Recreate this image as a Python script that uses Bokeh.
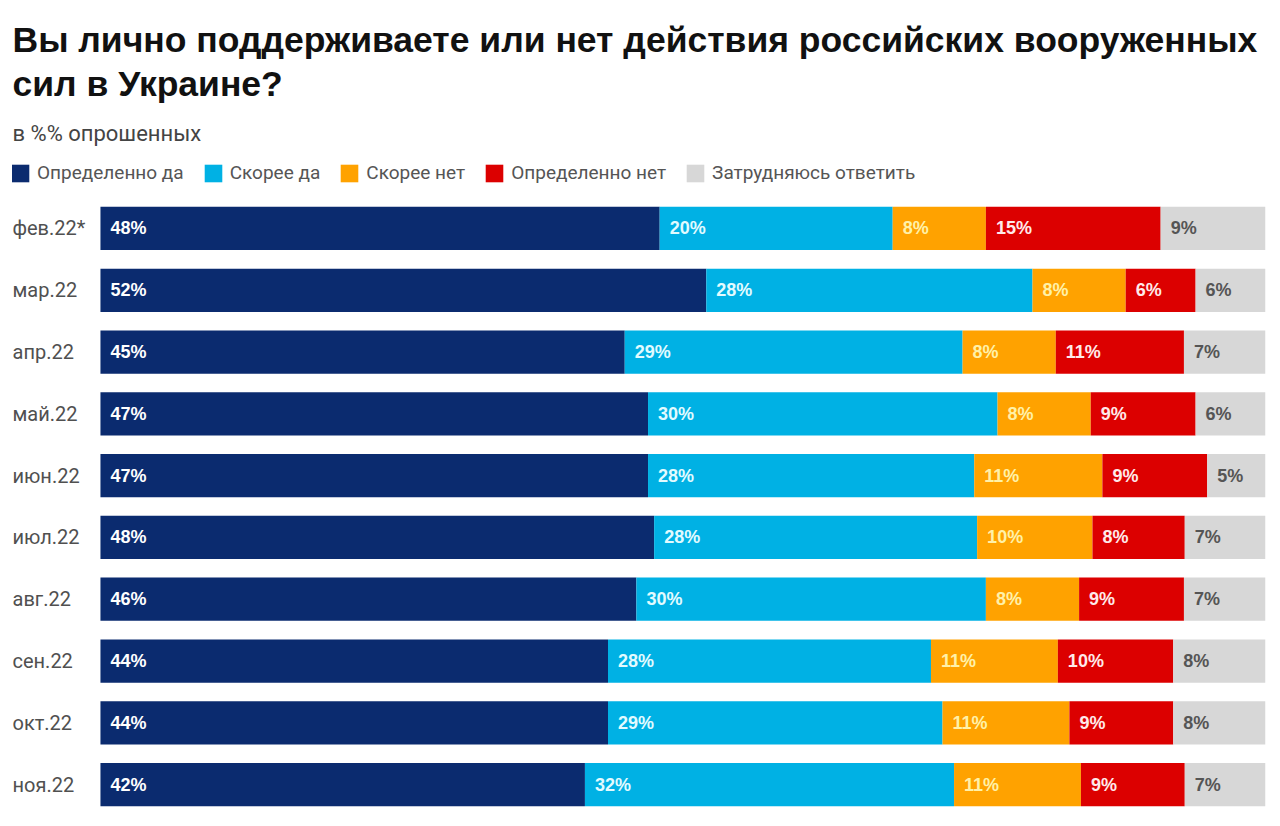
from bokeh.plotting import figure
from bokeh.models import ColumnDataSource, Range1d, Title, Legend, LegendItem
from bokeh.core.properties import value
from bokeh.embed import file_html
from bokeh.resources import INLINE

# ---- data ----
months = ["фев.22*", "мар.22", "апр.22", "май.22", "июн.22", "июл.22",
          "авг.22", "сен.22", "окт.22", "ноя.22"]
definitely_yes = [48, 52, 45, 47, 47, 48, 46, 44, 44, 42]
rather_yes = [20, 28, 29, 30, 28, 28, 30, 28, 29, 32]
rather_no = [8, 8, 8, 8, 11, 10, 8, 11, 11, 11]
definitely_no = [15, 6, 11, 9, 9, 8, 9, 10, 9, 9]
hard_to_say = [9, 6, 7, 6, 5, 7, 7, 8, 8, 7]

series_names = ["Определенно да", "Скорее да", "Скорее нет", "Определенно нет", "Затрудняюсь ответить"]
series_vals = [definitely_yes, rather_yes, rather_no, definitely_no, hard_to_say]
colors = ["#0b2b6f", "#00b1e4", "#ffa200", "#dc0000", "#d7d7d7"]
label_colors = ["#ffffff", "#e2fbff", "#fff1a8", "#ffeaea", "#555555"]

title_text = "Вы лично поддерживаете или нет действия российских вооруженных\nсил в Украине?"
subtitle_text = "в %% опрошенных"

FONT = "Liberation Sans"
LIGHT_FONT = "Roboto"

# normalized shares (rows summing to 101 because of rounding)
keys = ["s0", "s1", "s2", "s3", "s4"]
row_idx = list(range(len(months)))
data = {"month": months, "row": row_idx}
for k in keys:
    data[k] = []
for i in row_idx:
    tot = sum(v[i] for v in series_vals)
    for k, vals in zip(keys, series_vals):
        data[k].append(vals[i] * 100.0 / tot)
source = ColumnDataSource(data)

# label positions (left edge of each segment)
lx, ly, lt, lc = [], [], [], []
for i in row_idx:
    left = 0.0
    for j, k in enumerate(keys):
        lx.append(left)
        ly.append(i)
        lt.append(f"{series_vals[j][i]}%")
        lc.append(label_colors[j])
        left += data[k][i]
lab_src = ColumnDataSource(dict(x=lx, y=ly, t=lt, c=lc))

LEFT_PAD = 7.55   # room for month labels, in % units
TOP_PAD = 1.262   # room for the legend above the first row, in row units
FRAME_H = 818 - 150 - 3

p = figure(width=1272, height=818, output_backend="svg", toolbar_location=None,
           y_range=Range1d(len(months) - 0.5, -TOP_PAD),
           x_range=Range1d(-LEFT_PAD, 100),
           min_border_left=12, min_border_right=7, min_border_top=150, min_border_bottom=3)
p.xaxis.visible = False
p.yaxis.visible = False
p.xgrid.grid_line_color = None
p.ygrid.grid_line_color = None
p.outline_line_color = None

renderers = p.hbar_stack(keys, y="row", height=0.7, color=colors, source=source, line_width=0)

p.text(x="x", y="y", text="t", source=lab_src, x_offset=10, text_color="c",
       text_font=value(FONT), text_font_style="bold", text_font_size="18px",
       text_baseline="middle", text_align="left")

p.text(x=[-LEFT_PAD] * len(months), y=row_idx, text=months,
       text_font=value(LIGHT_FONT), text_font_size="20px", text_color="#505050",
       text_baseline="middle", text_align="left")

legend = Legend(items=[LegendItem(label=n, renderers=[r]) for n, r in zip(series_names, renderers)],
                orientation="horizontal", location=(-3, FRAME_H - 12 - 22),
                glyph_width=22, glyph_height=22, label_height=22, label_standoff=6,
                spacing=18, padding=0, margin=0,
                label_text_font=LIGHT_FONT, label_text_font_size="19px", label_text_color="#555555",
                border_line_color=None, background_fill_alpha=0)
legend.label_text_baseline = "middle"
p.add_layout(legend, "center")

p.add_layout(Title(text=subtitle_text, text_font=LIGHT_FONT, text_font_size="22px",
                   text_font_style="normal", text_color="#444444", standoff=10), "above")
p.add_layout(Title(text=title_text, text_font=FONT, text_font_size="35.5px",
                   text_font_style="bold", text_color="#111111", standoff=20,
                   text_line_height=1.1), "above")

open("out.html", "w").write(file_html(p, INLINE))
